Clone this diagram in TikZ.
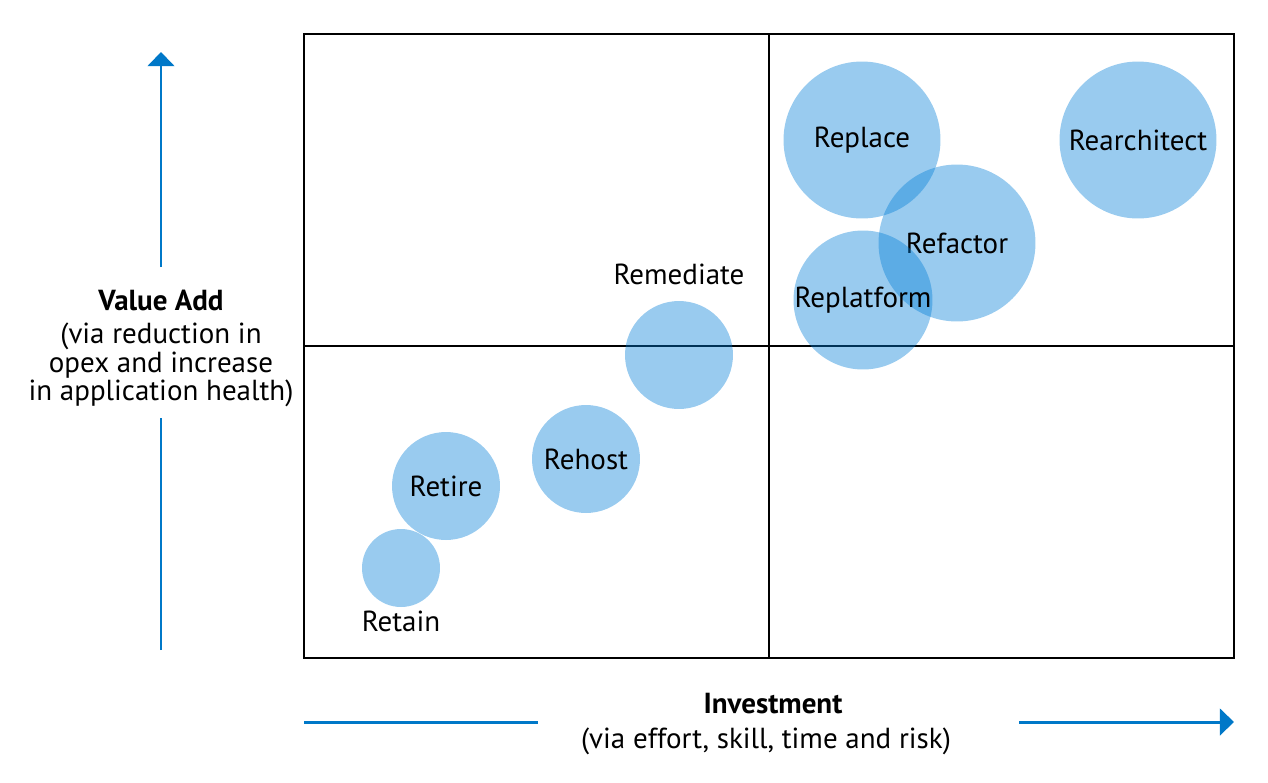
\documentclass[tikz,border=0pt]{standalone}
\usepackage{fontspec}
\setmainfont{PT Sans}
\usetikzlibrary{arrows.meta, positioning}

\definecolor{axisblue}{RGB}{0,120,200}
\definecolor{bubbleblue}{RGB}{0,125,215}

\begin{document}
\begin{tikzpicture}[x=0.02cm, y=-0.02cm,
  bubble/.style = {circle, fill=bubbleblue, fill opacity=0.4, text opacity=1,
                   inner sep=0pt, font=\fontsize{16.5}{18}\selectfont},
  lbl/.style    = {inner sep=0pt, font=\fontsize{16.5}{18}\selectfont},
  note/.style   = {inner sep=0pt, align=center,
                   font=\fontsize{16.5}{15}\selectfont},
  grid/.style   = {draw=black, line width=1.6pt},
  axis/.style   = {axisblue, line width=1.7pt},
  arr/.style    = {axis, -{Triangle[length=8pt, width=15pt]}},
]
  \useasboundingbox (0,0) rectangle (1268,782);

  % quadrants
  \draw[grid] (304,34) rectangle (1234,658);
  \draw[grid] (769,34) -- (769,658);
  \draw[grid] (304,346) -- (1234,346);

  % bubbles
  \node[bubble, minimum size=3.14cm] (replace)     at (862,140)  {Replace};
  \node[bubble, minimum size=3.14cm] (rearchitect) at (1138,140) {Rearchitect};
  \node[bubble, minimum size=3.14cm] (refactor)    at (957,243)  {Refactor};
  \node[bubble, minimum size=2.64cm] (replatform)  at (863,300)  {Replatform};
  \node[bubble, minimum size=2.16cm] (remediate)   at (679,355)  {};
  \node[bubble, minimum size=2.16cm] (rehost)      at (586,459)  {Rehost};
  \node[bubble, minimum size=2.16cm] (retire)      at (446,486)  {Retire};
  \node[bubble, minimum size=1.56cm] (retain)      at (401,568)  {};

  \node[lbl] (remediatelbl) at (679,274) {Remediate};
  \node[lbl] (retainlbl)    at (401,621) {Retain};

  % value axis
  \node[lbl, font=\fontsize{16.5}{18}\selectfont\bfseries] (valueadd) at (161,300) {Value Add};
  \node[note] (valuenote) at (161,365)
    {(via reduction in\\opex and increase\\in application health)};
  \coordinate (vbottom) at (161,650);
  \coordinate (vlow)    at (161,418);
  \coordinate (vhigh)   at (161,267);
  \coordinate (vtop)    at (161,52);
  \draw[axis] (vbottom) -- (vlow);
  \draw[arr]  (vhigh) -- (vtop);

  % investment axis
  \node[lbl, font=\fontsize{16.5}{18}\selectfont\bfseries] (investment) at (773,704) {Investment};
  \node[lbl] (investnote) at (766,741) {(via effort, skill, time and risk)};
  \coordinate (hleft)  at (304,722);
  \coordinate (hlow)   at (538,722);
  \coordinate (hhigh)  at (1019,722);
  \coordinate (hright) at (1234,722);
  \draw[axis] (hleft) -- (hlow);
  \draw[arr]  (hhigh) -- (hright);
\end{tikzpicture}
\end{document}
